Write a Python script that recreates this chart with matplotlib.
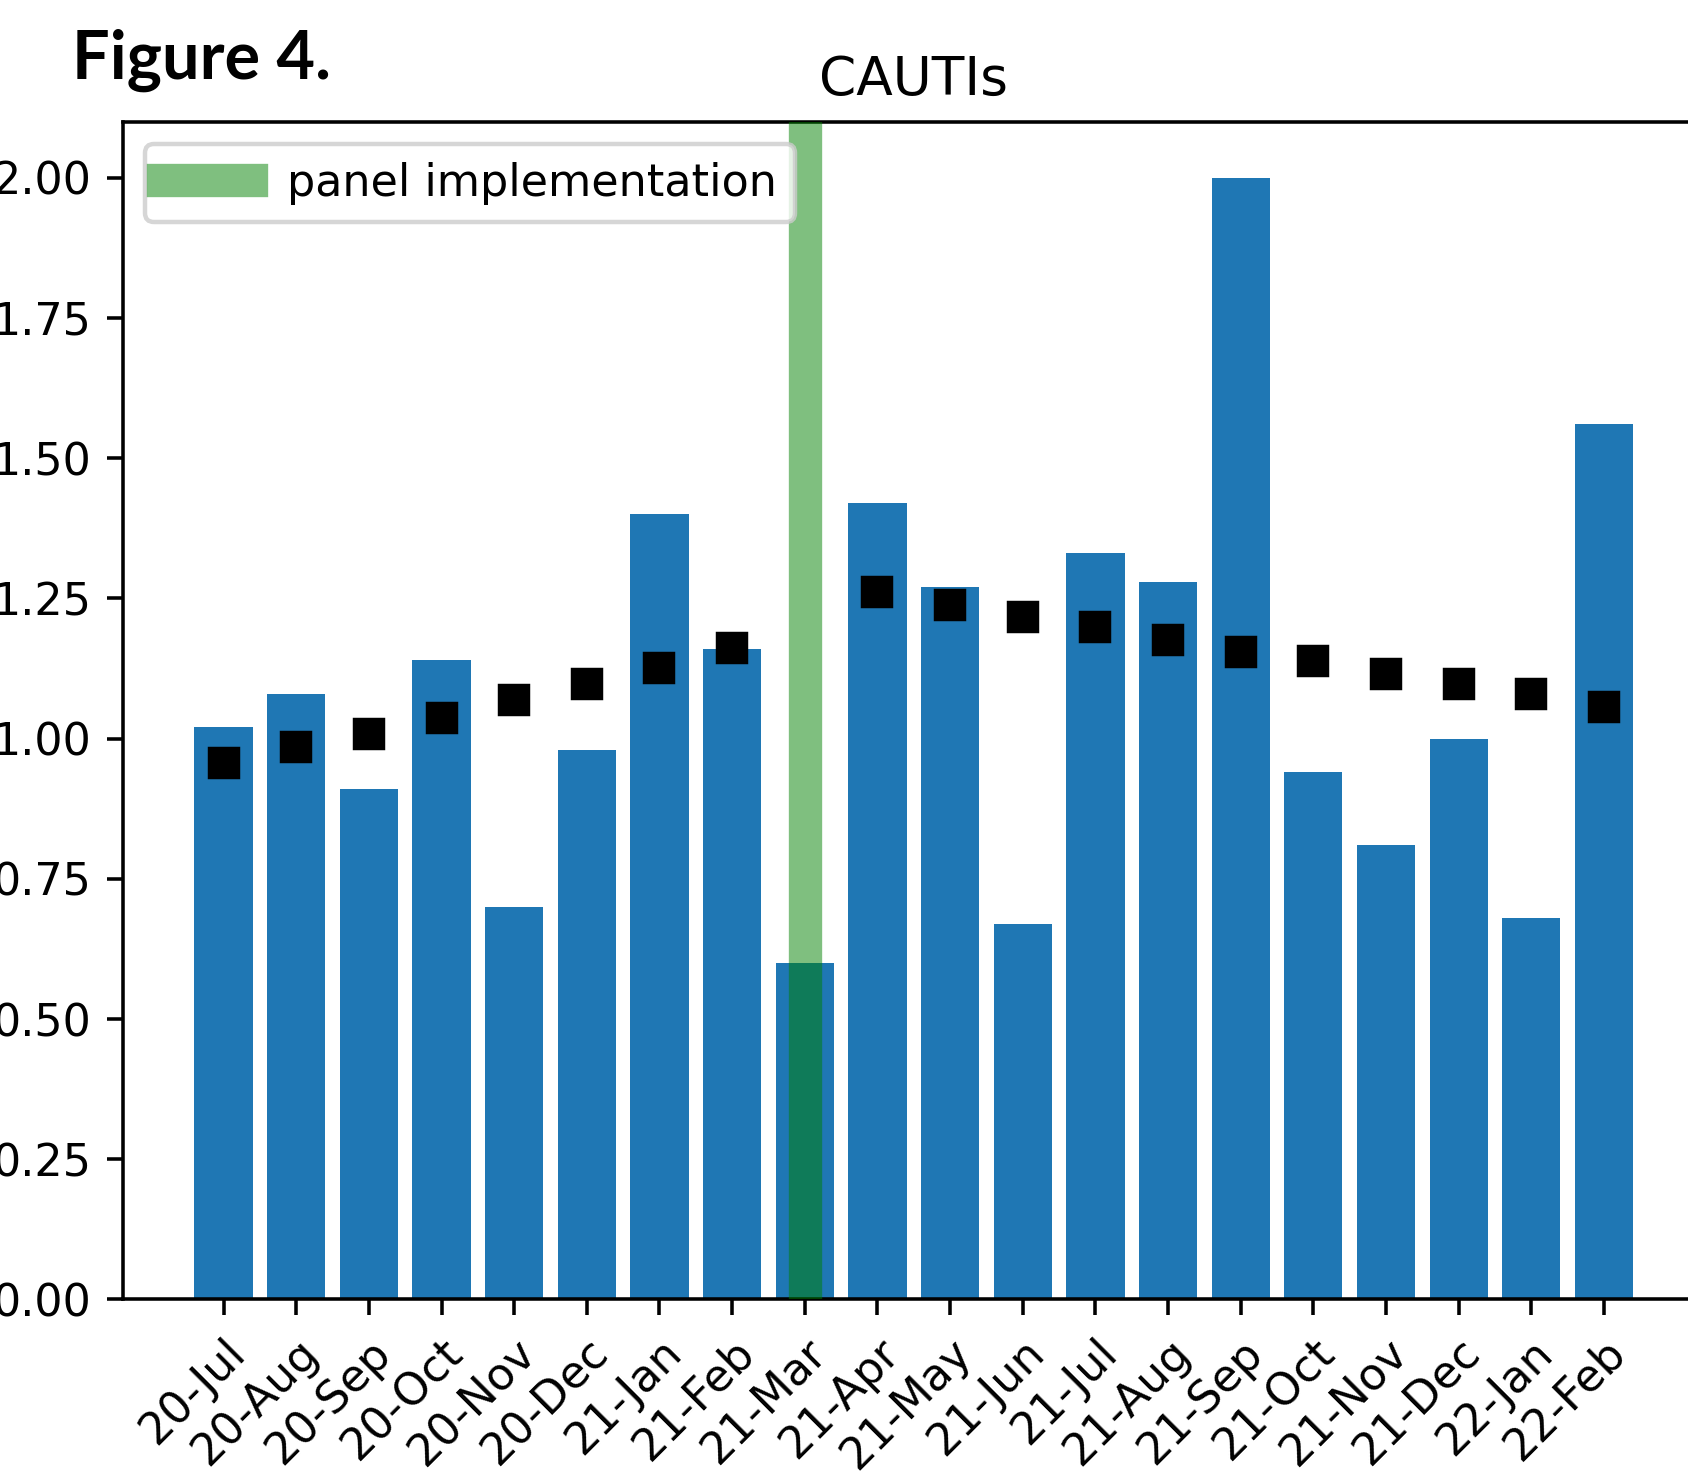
import numpy as np
import matplotlib
matplotlib.use("Agg")
import matplotlib.pyplot as plt

# monthly CAUTI rates and the trend points (no trend point at implementation month)
months = ["20-Jul", "20-Aug", "20-Sep", "20-Oct", "20-Nov", "20-Dec",
          "21-Jan", "21-Feb", "21-Mar", "21-Apr", "21-May", "21-Jun",
          "21-Jul", "21-Aug", "21-Sep", "21-Oct", "21-Nov", "21-Dec",
          "22-Jan", "22-Feb"]
rates = [1.02, 1.08, 0.91, 1.14, 0.70, 0.98, 1.40, 1.16, 0.60, 1.42,
         1.27, 0.67, 1.33, 1.28, 2.00, 0.94, 0.81, 1.00, 0.68, 1.56]
trend = [0.956, 0.985, 1.008, 1.036, 1.069, 1.098, 1.126, 1.161, np.nan, 1.262,
         1.239, 1.216, 1.199, 1.176, 1.155, 1.138, 1.115, 1.098, 1.080, 1.057]
implementation = "21-Mar"

dpi = 320
fig = plt.figure(figsize=(1688 / dpi, 1479 / dpi), dpi=dpi)
# the original screenshot is cropped: right part of the axes falls outside
ax = fig.add_axes([0.0726, 0.1214, 0.9375, 0.7964])

x = np.arange(len(months))
ax.bar(x, rates, width=0.8, color="C0")
ax.plot(x, trend, "s", color="black", markersize=6.5, zorder=3)
ax.axvline(months.index(implementation), color="g", alpha=0.5, linewidth=7.5,
           label="panel implementation", zorder=4)

ax.set_xticks(x)
ax.set_xticklabels(months)
plt.setp(ax.get_xticklabels(), rotation=45, ha="right", rotation_mode="anchor")
ax.set_xlim(-1.39, 20.39)
ax.set_ylim(0, 2.1)
ax.set_title("CAUTIs", fontsize=12)
ax.legend(loc="upper left")

fig.text(0.0425, 0.947, "Figure 4.", fontsize=15, fontweight="bold",
         family=["Lato", "DejaVu Sans"], va="baseline", ha="left")

fig.savefig("out.png", dpi=dpi)
